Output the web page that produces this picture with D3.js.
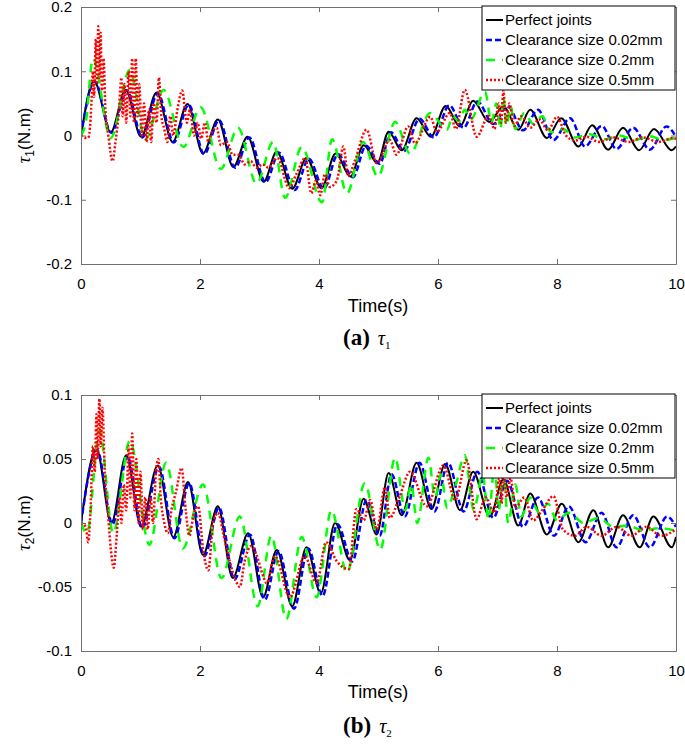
<!DOCTYPE html>
<html><head><meta charset="utf-8">
<script src="https://d3js.org/d3.v7.min.js"></script>
<style>body{margin:0;background:#fff}svg{display:block}</style>
</head><body>
<svg id="chart" width="685" height="747"></svg>
<script>
// ---------- DATA (time s, torque N.m) ----------
const seriesNames = ["Perfect joints","Clearance size 0.02mm","Clearance size 0.2mm","Clearance size 0.5mm"];
const xTicks = [0,2,4,6,8,10];
const yTicksA = [-0.2,-0.1,0,0.1,0.2];
const yTickLabelsA = ["-0.2","-0.1","0","0.1","0.2"];
const yTicksB = [-0.1,-0.05,0,0.05,0.1];
const yTickLabelsB = ["-0.1","-0.05","0","0.05","0.1"];

const tau1Perfect = [[0,0],[0.22,0.085],[0.50,0.005],[0.75,0.071],[1.01,-0.002],[1.27,0.067],[1.54,-0.010],[1.79,0.049],[2.05,-0.028],[2.30,0.025],[2.56,-0.049],[2.80,-0.002],[3.07,-0.072],[3.29,-0.025],[3.55,-0.083],[3.79,-0.035],[4.04,-0.082],[4.28,-0.028],[4.53,-0.064],[4.75,-0.015],[4.98,-0.043],[5.17,0.006],[5.39,-0.023],[5.64,0.027],[5.88,-0.002],[6.13,0.046],[6.37,0.014],[6.59,0.054],[6.86,0.021],[7.10,0.045],[7.35,0.009],[7.55,0.040],[7.83,-0.004],[8.07,0.027],[8.36,-0.017],[8.59,0.016],[8.86,-0.022],[9.11,0.012],[9.38,-0.023],[9.63,0.010],[9.93,-0.023],[10,-0.017]];
const tau1C002 = [[0,0],[0.23,0.084],[0.51,0.004],[0.77,0.070],[1.03,-0.003],[1.29,0.066],[1.56,-0.011],[1.81,0.048],[2.07,-0.029],[2.32,0.024],[2.59,-0.050],[2.83,-0.003],[3.10,-0.073],[3.33,-0.027],[3.59,-0.085],[3.83,-0.036],[4.08,-0.083],[4.32,-0.029],[4.57,-0.065],[4.79,-0.016],[5.02,-0.044],[5.21,0.005],[5.43,-0.024],[5.69,0.026],[5.93,-0.003],[6.19,0.047],[6.43,0.012],[6.66,0.053],[6.93,0.018],[7.17,0.046],[7.43,0.008],[7.68,0.040],[7.94,-0.007],[8.22,0.027],[8.47,-0.017],[8.75,0.015],[9.00,-0.021],[9.28,0.012],[9.56,-0.022],[9.84,0.014],[10,-0.002]];
const tau1C02 = [[0,0],[0.08,0.02],[0.20,0.12],[0.50,-0.004],[0.82,0.102],[1.08,-0.006],[1.39,0.071],[1.72,-0.018],[2.01,0.044],[2.35,-0.052],[2.64,0.012],[2.95,-0.075],[3.23,-0.010],[3.43,-0.097],[3.71,-0.018],[4.05,-0.104],[4.22,-0.006],[4.47,-0.090],[4.74,-0.010],[4.99,-0.064],[5.28,0.021],[5.53,-0.028],[5.87,0.035],[6.15,0.009],[6.25,0.030],[6.35,0.022],[6.45,0.040],[6.55,0.025],[6.79,0.068],[6.90,0.020],[6.98,0.050],[7.05,0.010],[7.10,0.060],[7.15,0.015],[7.22,0.045],[7.30,0.010],[7.45,0.035],[7.60,0.018],[7.75,0.030],[7.90,0.005],[8.10,0.010],[8.30,-0.003],[8.55,0.002],[8.80,-0.006],[9.05,0.000],[9.30,-0.007],[9.55,-0.001],[9.80,-0.007],[10,-0.003]];
const tau1C05 = [[0,0],[0.10,-0.004],[0.13,-0.002],[0.17,0.04],[0.20,0.10],[0.22,0.06],[0.25,0.15],[0.27,0.08],[0.29,0.17],[0.31,0.09],[0.33,0.16],[0.35,0.07],[0.38,0.12],[0.41,0.04],[0.46,0.0],[0.53,-0.04],[0.58,-0.01],[0.63,0.03],[0.68,0.09],[0.70,0.03],[0.73,0.08],[0.76,0.02],[0.80,0.10],[0.83,0.03],[0.86,0.12],[0.89,0.02],[0.92,0.12],[0.95,0.03],[0.98,0.08],[1.02,0.0],[1.06,0.05],[1.10,-0.01],[1.14,0.04],[1.18,-0.01],[1.22,0.05],[1.27,0.02],[1.31,0.09],[1.35,0.03],[1.40,0.01],[1.45,-0.01],[1.50,0.03],[1.55,0.0],[1.62,0.04],[1.70,0.07],[1.78,0.02],[1.83,0.04],[1.90,0.0],[1.96,0.02],[2.02,-0.005],[2.08,0.02],[2.14,-0.01],[2.20,0.005],[2.28,0.012],[2.35,-0.015],[2.45,-0.01],[2.55,-0.03],[2.65,-0.03],[2.75,-0.045],[2.85,-0.04],[2.95,-0.05],[3.05,-0.045],[3.15,-0.05],[3.30,-0.035],[3.50,-0.082],[3.62,-0.06],[3.77,-0.035],[3.87,-0.09],[3.95,-0.07],[4.02,-0.093],[4.10,-0.06],[4.18,-0.08],[4.30,-0.07],[4.41,-0.017],[4.49,-0.063],[4.60,-0.04],[4.80,0.009],[4.97,-0.043],[5.19,-0.007],[5.30,-0.03],[5.50,0.014],[5.61,-0.012],[5.87,0.029],[5.98,0.006],[6.20,0.035],[6.30,0.01],[6.45,0.071],[6.65,-0.002],[6.85,0.03],[6.95,0.01],[7.02,0.05],[7.06,0.02],[7.10,0.07],[7.14,0.02],[7.20,0.05],[7.28,0.015],[7.40,0.03],[7.55,0.012],[7.70,0.025],[7.85,0.008],[8.00,0.029],[8.15,0.0],[8.30,-0.008],[8.50,-0.002],[8.70,-0.01],[8.95,-0.003],[9.20,-0.01],[9.45,-0.003],[9.70,-0.01],[9.95,-0.004],[10,-0.005]];

const tau2Perfect = [[0,0],[0.26,0.058],[0.51,0.0],[0.76,0.053],[1.01,-0.003],[1.29,0.045],[1.55,-0.011],[1.80,0.032],[2.05,-0.025],[2.30,0.013],[2.55,-0.043],[2.81,-0.008],[3.06,-0.058],[3.29,-0.021],[3.55,-0.065],[3.79,-0.019],[4.03,-0.055],[4.27,0.0],[4.52,-0.029],[4.75,0.019],[4.97,-0.009],[5.17,0.039],[5.39,0.006],[5.64,0.047],[5.89,0.011],[6.12,0.046],[6.37,0.010],[6.59,0.040],[6.87,0.005],[7.10,0.034],[7.35,-0.002],[7.55,0.023],[7.83,-0.009],[8.08,0.015],[8.36,-0.015],[8.61,0.010],[8.86,-0.019],[9.11,0.006],[9.39,-0.019],[9.62,0.005],[9.93,-0.019],[10,-0.011]];
const tau2C002 = [[0,0],[0.27,0.057],[0.53,-0.001],[0.78,0.052],[1.03,-0.004],[1.31,0.044],[1.57,-0.012],[1.82,0.031],[2.07,-0.026],[2.32,0.012],[2.58,-0.044],[2.84,-0.009],[3.09,-0.060],[3.32,-0.022],[3.58,-0.067],[3.82,-0.020],[4.06,-0.057],[4.31,-0.001],[4.56,-0.030],[4.80,0.018],[5.02,-0.010],[5.22,0.038],[5.44,0.005],[5.69,0.047],[5.94,0.009],[6.17,0.047],[6.43,0.009],[6.66,0.040],[6.93,0.004],[7.16,0.033],[7.43,-0.003],[7.68,0.020],[7.95,-0.010],[8.20,0.013],[8.48,-0.015],[8.75,0.008],[9.00,-0.019],[9.28,0.006],[9.56,-0.019],[9.85,0.005],[10,-0.003]];
const tau2C02 = [[0,0],[0.10,-0.008],[0.31,0.072],[0.54,-0.008],[0.82,0.064],[1.15,-0.017],[1.43,0.047],[1.71,-0.020],[2.05,0.030],[2.36,-0.043],[2.67,0.005],[2.97,-0.065],[3.20,-0.010],[3.45,-0.075],[3.71,-0.011],[3.96,-0.058],[4.21,0.010],[4.47,-0.039],[4.77,0.031],[5.03,-0.021],[5.28,0.051],[5.45,0.010],[5.55,0.030],[5.65,0.0],[5.84,0.051],[5.95,0.020],[6.05,0.038],[6.15,0.012],[6.30,0.030],[6.45,0.053],[6.60,0.010],[6.75,0.038],[6.85,0.003],[6.95,0.045],[7.02,0.010],[7.10,0.040],[7.18,0.0],[7.30,0.030],[7.40,0.005],[7.55,0.020],[7.70,0.008],[7.85,0.015],[8.00,0.002],[8.20,0.008],[8.45,0.0],[8.70,0.004],[8.95,-0.003],[9.20,-0.002],[9.45,-0.006],[9.70,-0.004],[10,-0.006]];
const tau2C05 = [[0,0],[0.08,-0.003],[0.12,-0.015],[0.16,0.01],[0.20,0.06],[0.23,0.04],[0.26,0.085],[0.28,0.05],[0.31,0.097],[0.33,0.06],[0.36,0.09],[0.40,0.04],[0.45,0.01],[0.50,-0.02],[0.55,-0.035],[0.60,-0.01],[0.65,0.02],[0.68,0.0],[0.72,0.03],[0.76,0.01],[0.80,0.06],[0.83,0.02],[0.86,0.07],[0.90,0.01],[0.93,0.05],[0.97,0.0],[1.00,0.04],[1.04,-0.005],[1.08,0.02],[1.12,-0.005],[1.17,0.02],[1.21,0.0],[1.26,0.04],[1.30,0.05],[1.34,0.02],[1.40,0.0],[1.46,-0.008],[1.52,0.01],[1.60,0.025],[1.69,0.043],[1.76,0.01],[1.82,-0.01],[1.90,0.008],[1.97,0.013],[2.05,-0.02],[2.14,-0.037],[2.22,0.0],[2.30,0.008],[2.40,-0.01],[2.50,-0.03],[2.60,-0.045],[2.67,-0.05],[2.75,-0.03],[2.86,-0.018],[2.95,-0.025],[3.05,-0.04],[3.12,-0.047],[3.26,-0.026],[3.51,-0.058],[3.76,-0.026],[3.96,-0.047],[4.12,-0.015],[4.30,-0.03],[4.50,-0.036],[4.63,0.011],[4.75,0.002],[4.86,0.018],[4.97,-0.005],[5.11,0.028],[5.19,0.004],[5.35,0.02],[5.53,0.04],[5.81,0.013],[6.09,0.045],[6.29,0.018],[6.48,0.049],[6.65,0.003],[6.80,0.02],[6.95,0.008],[7.03,0.035],[7.07,0.015],[7.10,0.045],[7.15,0.02],[7.22,0.035],[7.30,0.012],[7.45,0.02],[7.60,0.002],[7.75,0.01],[7.94,0.021],[8.10,-0.005],[8.30,-0.01],[8.50,-0.003],[8.75,-0.01],[9.00,-0.003],[9.25,-0.01],[9.50,-0.003],[9.75,-0.01],[10,-0.005]];

// ---------- DRAW ----------
const svg = d3.select("#chart");
const styles = [
  {color:"#000000", width:2, dash:null},
  {color:"#0000ff", width:2.5, dash:"6,3"},
  {color:"#00ff00", width:2.5, dash:"9,7"},
  {color:"#ff0000", width:2.5, dash:"2,2"}
];
const axisColor = "#707070";
const sans = "'Liberation Sans', Arial, sans-serif";
const serif = "'Liberation Serif', 'Times New Roman', serif";

const panels = [
  {top:7, bottom:264, yDomain:[-0.2,0.2], yTicks:yTicksA, yLabels:yTickLabelsA, data:[tau1Perfect,tau1C002,tau1C02,tau1C05],
   sub:"1", letter:"(a)", tickBase:290, titleBase:312, capBase:345, legendTop:6},
  {top:395, bottom:651, yDomain:[-0.1,0.1], yTicks:yTicksB, yLabels:yTickLabelsB, data:[tau2Perfect,tau2C002,tau2C02,tau2C05],
   sub:"2", letter:"(b)", tickBase:675, titleBase:698, capBase:733, legendTop:394}
];
const L = 81, R = 676;
const x = d3.scaleLinear().domain([0,10]).range([L,R]);

panels.forEach((p, pi) => {
  const y = d3.scaleLinear().domain(p.yDomain).range([p.bottom,p.top]);
  const g = svg.append("g");
  const clipId = "clip"+pi;
  svg.append("clipPath").attr("id",clipId).append("rect")
    .attr("x",L).attr("y",p.top).attr("width",R-L).attr("height",p.bottom-p.top);

  const line = d3.line().x(d=>x(d[0])).y(d=>y(d[1])).curve(d3.curveMonotoneX);
  const lg = g.append("g").attr("clip-path",`url(#${clipId})`);
  p.data.forEach((ser, si) => {
    const st = styles[si];
    const path = lg.append("path").datum(ser).attr("d",line).attr("fill","none")
      .attr("stroke",st.color).attr("stroke-width",st.width).attr("stroke-linejoin","round");
    if (st.dash) path.attr("stroke-dasharray",st.dash);
  });

  // bottom axis with labels
  const ax = g.append("g").attr("transform",`translate(0,${p.bottom})`)
    .call(d3.axisBottom(x).tickValues(xTicks).tickSizeInner(-5).tickSizeOuter(0).tickPadding(14).tickFormat(d=>String(d)));
  const axT = g.append("g").attr("transform",`translate(0,${p.top})`)
    .call(d3.axisTop(x).tickValues(xTicks).tickSizeInner(-5).tickSizeOuter(0).tickFormat(()=>""));
  const ay = g.append("g").attr("transform",`translate(${L},0)`)
    .call(d3.axisLeft(y).tickValues(p.yTicks).tickSizeInner(-5).tickSizeOuter(0).tickPadding(9)
      .tickFormat((d,i)=>p.yLabels[i]));
  const ayR = g.append("g").attr("transform",`translate(${R},0)`)
    .call(d3.axisRight(y).tickValues(p.yTicks).tickSizeInner(-5).tickSizeOuter(0).tickFormat(()=>""));
  [ax,axT,ay,ayR].forEach(a=>{
    a.select(".domain").attr("stroke",axisColor);
    a.selectAll(".tick line").attr("stroke",axisColor);
    a.selectAll("text").attr("fill","#000").style("font-family",sans).style("font-size","15px");
  });

  g.append("text").attr("x",378).attr("y",p.titleBase).attr("text-anchor","middle")
    .style("font-family",sans).style("font-size","18px").text("Time(s)");

  const cy = (p.top+p.bottom)/2;
  const yt = g.append("text").attr("transform",`translate(30,${cy}) rotate(-90)`).attr("text-anchor","middle")
    .style("font-family",sans).style("font-size","17px");
  yt.append("tspan").style("font-family",serif).style("font-style","italic").style("font-size","19px").text("τ");
  yt.append("tspan").attr("dy",4).style("font-size","12px").text(p.sub);
  yt.append("tspan").attr("dy",-4).text("(N.m)");

  const cap = g.append("text").attr("x",343).attr("y",p.capBase).style("font-family",serif);
  cap.append("tspan").style("font-weight","bold").style("font-size","23px").text(p.letter);
  cap.append("tspan").attr("dx",8).style("font-style","italic").style("font-size","20px").text("τ");
  cap.append("tspan").attr("dy",4).style("font-size","11px").text(p.sub);

  const lgx = 482, lgw = 193, lgh = 84;
  const leg = g.append("g");
  leg.append("rect").attr("x",lgx).attr("y",p.legendTop).attr("width",lgw).attr("height",lgh)
    .attr("fill","#fff").attr("stroke","#000").attr("stroke-width",1);
  seriesNames.forEach((nm, i) => {
    const ry = p.legendTop + 14 + i*20;
    const st = styles[i];
    const ln = leg.append("line").attr("x1",486).attr("x2",503).attr("y1",ry).attr("y2",ry)
      .attr("stroke",st.color).attr("stroke-width",st.width);
    if (st.dash) ln.attr("stroke-dasharray",st.dash);
    leg.append("text").attr("x",505).attr("y",ry).attr("dy","0.35em")
      .style("font-family",sans).style("font-size","15px").text(nm);
  });
});
</script>
</body></html>
